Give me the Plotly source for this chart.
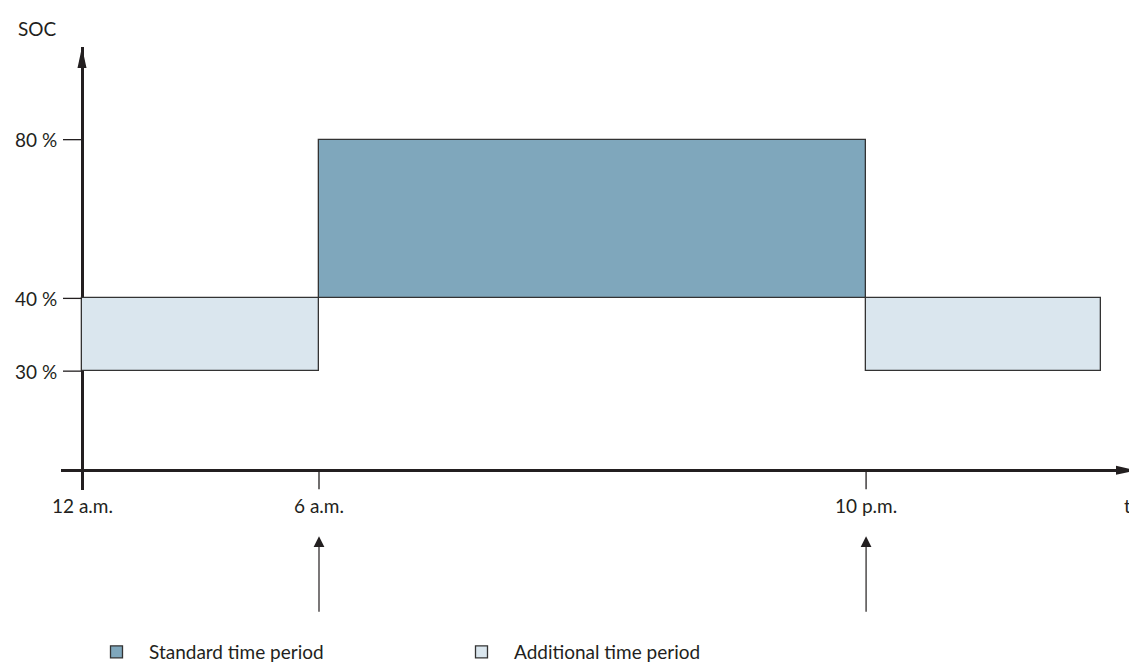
import plotly.graph_objects as go

# SOC limits per time period (schematic diagram, not to scale)
period_names = ["Additional time period", "Standard time period", "Additional time period"]
period_start = [0, 6, 19.85]      # drawing position of the period start on the time axis
period_end = [6, 19.85, 25.8]
soc_low = [30, 52, 30]            # drawing position of the lower SOC limit
soc_high = [52, 100, 52]

time_ticks = [0, 6, 19.85]
time_labels = ["12 a.m.", "6 a.m.", "10 p.m."]
soc_ticks = [30, 52, 100]
soc_labels = ["30 %", "40 %", "80 %"]
arrow_times = [6, 19.85]

colors = {"Standard time period": "#7fa7bc", "Additional time period": "#dae6ee"}
ink = "#231f20"
font = dict(family="Lato, 'Noto Sans', sans-serif", size=19, color=ink)

fig = go.Figure()
for name in ["Standard time period", "Additional time period"]:
    idx = [i for i, n in enumerate(period_names) if n == name]
    fig.add_trace(go.Bar(
        x=[(period_start[i] + period_end[i]) / 2 for i in idx],
        width=[period_end[i] - period_start[i] for i in idx],
        base=[soc_low[i] for i in idx],
        y=[soc_high[i] - soc_low[i] for i in idx],
        name=name,
        marker=dict(color=colors[name], line=dict(color="#333333", width=1.3)),
        hoverinfo="skip",
    ))

# geometry of the plot area (pixels in the browser window)
OFF_X, OFF_Y = 8, 3  # page offset of the figure
L, T, R, B = 61, 42, 1137, 493
W, H = R - L, B - T
xr = [-21 / 39.5, (R - 82) / 39.5]
yr = [-(B - 473) / 3.3667, (473 - T) / 3.3667]


def py(pix):
    return (B - pix) / H


def px(pix):
    return (pix - L) / W


shapes = []
# y ticks
for v in soc_ticks:
    shapes.append(dict(type="line", xref="x", yref="y", xsizemode="pixel", xanchor=0,
                       x0=-19, x1=0, y0=v, y1=v, line=dict(color=ink, width=1.3)))
# x ticks
for v in time_ticks[1:]:
    shapes.append(dict(type="line", xref="x", yref="y", ysizemode="pixel", yanchor=0,
                       x0=v, x1=v, y0=0, y1=-19, line=dict(color=ink, width=1.3)))
# arrow heads of the axes
shapes.append(dict(type="path", xref="x", yref="y", xsizemode="pixel", ysizemode="pixel",
                   xanchor=0, yanchor=yr[1], path="M -4.5 -21 L 4.5 -21 L 0 0 Z",
                   fillcolor=ink, line=dict(width=0)))
shapes.append(dict(type="path", xref="x", yref="y", xsizemode="pixel", ysizemode="pixel",
                   xanchor=xr[1], yanchor=0, path="M -21 -4.5 L -21 4.5 L 0 0 Z",
                   fillcolor=ink, line=dict(width=0)))

ann = []
for v, t in zip(soc_ticks, soc_labels):
    ann.append(dict(x=px(59), xref="paper", y=v, yref="y", text=t, showarrow=False,
                    xanchor="right", yanchor="middle", font=font))
for v, t in zip(time_ticks, time_labels):
    ann.append(dict(x=v, xref="x", y=py(509), yref="paper", text=t, showarrow=False,
                    xanchor="center", yanchor="middle", font=font))
ann.append(dict(x=px(59), xref="paper", y=py(23), yref="paper", text="SOC", showarrow=False,
                xanchor="right", yanchor="middle", font=font))
ann.append(dict(x=px(1122), xref="paper", y=py(509), yref="paper", text="t", showarrow=False,
                xanchor="left", yanchor="middle", font=font))
for v in arrow_times:
    ann.append(dict(x=v, xref="x", y=py(540), yref="paper", text="", showarrow=True,
                    ax=0, ay=77, arrowhead=2, arrowsize=1.8, arrowwidth=1.2, arrowcolor=ink))

fig.update_layout(
    width=1137 - OFF_X, height=666 - OFF_Y, autosize=False,
    margin=dict(l=L - OFF_X, r=1137 - R, t=T - OFF_Y, b=666 - B),
    plot_bgcolor="white", paper_bgcolor="white",
    font=font, barmode="overlay", bargap=0,
    xaxis=dict(range=xr, showgrid=False, showticklabels=False, ticks="",
               zeroline=True, zerolinecolor=ink, zerolinewidth=2.5, fixedrange=True),
    yaxis=dict(range=yr, showgrid=False, showticklabels=False, ticks="",
               zeroline=True, zerolinecolor=ink, zerolinewidth=2.5, fixedrange=True),
    shapes=shapes, annotations=ann,
    showlegend=True,
    legend=dict(orientation="h", x=px(84), y=py(639), xanchor="left", yanchor="top",
                entrywidth=295, entrywidthmode="pixels", itemwidth=55, font=font,
                traceorder="normal"),
)

fig.write_html("out.html")
